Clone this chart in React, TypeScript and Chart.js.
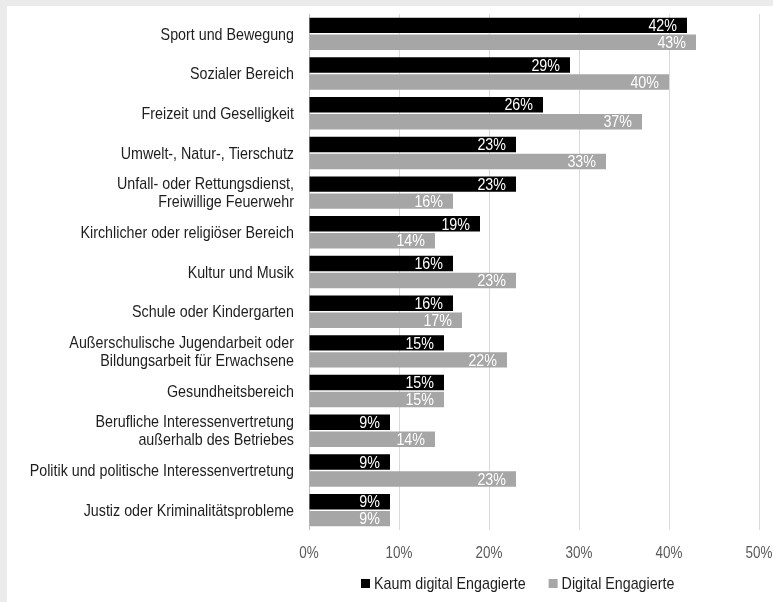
import React, { useEffect, useRef } from "react";
import { Chart, registerables } from "chart.js";

Chart.register(...registerables);

const categories: (string | string[])[] = [
  "Sport und Bewegung",
  "Sozialer Bereich",
  "Freizeit und Geselligkeit",
  "Umwelt-, Natur-, Tierschutz",
  ["Unfall- oder Rettungsdienst,", "Freiwillige Feuerwehr"],
  "Kirchlicher oder religiöser Bereich",
  "Kultur und Musik",
  "Schule oder Kindergarten",
  ["Außerschulische Jugendarbeit oder", "Bildungsarbeit für Erwachsene"],
  "Gesundheitsbereich",
  ["Berufliche Interessenvertretung", "außerhalb des Betriebes"],
  "Politik und politische Interessenvertretung",
  "Justiz oder Kriminalitätsprobleme",
];
const kaumDigital = [42, 29, 26, 23, 23, 19, 16, 16, 15, 15, 9, 9, 9];
const digital = [43, 40, 37, 33, 16, 14, 23, 17, 22, 15, 14, 23, 9];
const seriesNames = ["Kaum digital Engagierte", "Digital Engagierte"];
const seriesColors = ["#000000", "#a6a6a6"];
const xMin = 0;
const xMax = 50;
const xStep = 10;

const FONT = "'Liberation Sans', Arial, sans-serif";
const NARROW = 0.84;

function drawNarrow(ctx: any, text: string, x: number, y: number, align: string) {
  ctx.save();
  ctx.translate(x, y);
  ctx.scale(NARROW, 1);
  ctx.textAlign = align;
  ctx.textBaseline = "middle";
  ctx.fillText(text, 0, 0);
  ctx.restore();
}

const textPlugin = {
  id: "textPlugin",
  afterDatasetsDraw(chart: any) {
    const ctx = chart.ctx;
    ctx.save();
    // value labels
    ctx.font = `17px ${FONT}`;
    ctx.fillStyle = "#ffffff";
    chart.data.datasets.forEach((ds: any, di: number) => {
      const meta = chart.getDatasetMeta(di);
      meta.data.forEach((bar: any, i: number) => {
        drawNarrow(ctx, ds.data[i] + "%", bar.x - 10, bar.y + 1, "right");
      });
    });
    // category labels
    const ys = chart.scales.y;
    ctx.fillStyle = "#1e1e1e";
    ctx.font = `17px ${FONT}`;
    chart.data.labels.forEach((lab: any, i: number) => {
      const lines = Array.isArray(lab) ? lab : [lab];
      const cy = ys.getPixelForValue(i);
      const lh = 18;
      lines.forEach((ln: string, k: number) => {
        const yy = cy + (k - (lines.length - 1) / 2) * lh + 1;
        drawNarrow(ctx, ln, 287, yy, "right");
      });
    });
    // x tick labels
    const xs = chart.scales.x;
    ctx.fillStyle = "#595959";
    ctx.font = `16px ${FONT}`;
    xs.ticks.forEach((t: any) => {
      drawNarrow(ctx, t.value + "%", xs.getPixelForValue(t.value), 548, "center");
    });
    // legend
    ctx.font = `17px ${FONT}`;
    let x = 354;
    const y = 577;
    seriesNames.forEach((name, i) => {
      ctx.fillStyle = seriesColors[i];
      ctx.fillRect(x, y - 4, 9, 9);
      ctx.fillStyle = "#1e1e1e";
      drawNarrow(ctx, name, x + 13, y + 1, "left");
      x += 13 + ctx.measureText(name).width * NARROW + 23;
    });
    ctx.restore();
  },
};

export default function App() {
  const ref = useRef<HTMLCanvasElement>(null);
  useEffect(() => {
    const chart = new Chart(ref.current!, {
      type: "bar",
      data: {
        labels: categories,
        datasets: [
          {
            label: seriesNames[0],
            data: kaumDigital,
            backgroundColor: seriesColors[0],
            categoryPercentage: 0.855,
            barPercentage: 0.91,
          },
          {
            label: seriesNames[1],
            data: digital,
            backgroundColor: seriesColors[1],
            categoryPercentage: 0.855,
            barPercentage: 0.91,
          },
        ],
      },
      options: {
        indexAxis: "y",
        animation: false,
        responsive: false,
        maintainAspectRatio: false,
        layout: { padding: { top: 8, right: 14, bottom: 24, left: 0 } },
        plugins: {
          legend: { display: false },
          tooltip: { enabled: false },
        },
        scales: {
          x: {
            min: xMin,
            max: xMax,
            border: { display: false },
            grid: {
              drawTicks: false,
              color: (c: any) => (c.index === 0 ? "#bfbfbf" : "#d9d9d9"),
            },
            ticks: {
              stepSize: xStep,
              display: false,
            },
            afterFit: (s: any) => {
              s.height = 48;
              s.paddingLeft = 0;
              s.paddingRight = 0;
              s.paddingTop = 0;
              s.paddingBottom = 0;
            },
          },
          y: {
            border: { display: false },
            grid: { display: false, drawTicks: false },
            ticks: { display: false, autoSkip: false },
            afterFit: (s: any) => {
              s.width = 302;
              s.paddingLeft = 0;
              s.paddingRight = 0;
              s.paddingTop = 0;
              s.paddingBottom = 0;
            },
          },
        },
      },
      plugins: [textPlugin],
    });
    return () => chart.destroy();
  }, []);

  return (
    <div style={{ position: "fixed", left: 0, top: 0, width: 773, height: 602, background: "#ebebeb" }}>
      <div style={{ position: "absolute", left: 7, top: 6, width: 766, height: 596, background: "#ffffff" }}>
        <canvas ref={ref} width={766} height={596} style={{ display: "block" }} />
      </div>
    </div>
  );
}
